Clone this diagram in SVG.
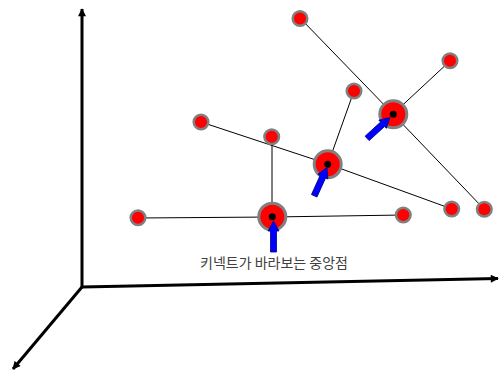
<svg xmlns="http://www.w3.org/2000/svg" width="500" height="373" viewBox="0 0 500 373">
<style>
.axis{stroke:#000;stroke-width:3;fill:none}
.edge{stroke:#000;stroke-width:1;fill:none}
.sn{fill:#ff0000;stroke:#808080;stroke-width:2.5}
.bn{fill:#ff0000;stroke:#808080;stroke-width:3}
.dot{fill:#000}
.ar{fill:#0000ff;stroke:#000080;stroke-width:0.8}
.lbl{font-family:"Noto Sans CJK KR","Noto Sans",sans-serif;font-size:14px;fill:#404040}
</style>
<defs>
<marker id="ah" viewBox="0 0 10 10" refX="9" refY="5" markerWidth="9" markerHeight="8" markerUnits="userSpaceOnUse" orient="auto">
<path d="M0,0 L10,5 L0,10 Z" fill="#000"/>
</marker>
<path id="blueArrow" d="M0,0 L5.5,10 L3,10 L3,31 L-3,31 L-3,10 L-5.5,10 Z"/>
</defs>
<g id="axes">
<line class="axis" x1="82" y1="287" x2="82" y2="9" marker-end="url(#ah)"/>
<line class="axis" x1="82" y1="287" x2="498" y2="278.5" marker-end="url(#ah)"/>
<line class="axis" x1="82" y1="287" x2="13" y2="369" marker-end="url(#ah)"/>
</g>
<g id="connectors">
<line class="edge" x1="300" y1="18" x2="393" y2="114"/>
<line class="edge" x1="450" y1="61" x2="393" y2="114"/>
<line class="edge" x1="393" y1="114" x2="484" y2="209"/>
<line class="edge" x1="354" y1="91" x2="328" y2="164"/>
<line class="edge" x1="201" y1="122" x2="328" y2="164"/>
<line class="edge" x1="328" y1="164" x2="452" y2="209"/>
<line class="edge" x1="272" y1="137" x2="272" y2="217"/>
<line class="edge" x1="138" y1="218" x2="272" y2="217"/>
<line class="edge" x1="272" y1="217" x2="403" y2="215"/>
</g>
<g id="n1"><circle class="sn" cx="300" cy="18.5" r="7.3"/></g>
<g id="n2"><circle class="sn" cx="450" cy="60.7" r="7.3"/></g>
<g id="n3"><circle class="sn" cx="354" cy="91" r="7.3"/></g>
<g id="n4"><circle class="sn" cx="201" cy="122" r="7.3"/></g>
<g id="n5"><circle class="sn" cx="271.7" cy="136.7" r="7.3"/></g>
<g id="n6"><circle class="sn" cx="138" cy="217.7" r="7.3"/></g>
<g id="n7"><circle class="sn" cx="403.3" cy="215" r="7.3"/></g>
<g id="n8"><circle class="sn" cx="451.7" cy="209" r="7.3"/></g>
<g id="n9"><circle class="sn" cx="484.3" cy="209.3" r="7.3"/></g>
<g id="c1"><circle class="bn" cx="393.3" cy="114.3" r="13.5"/><circle class="dot" cx="393.3" cy="114.3" r="3.5"/></g>
<g id="c2"><circle class="bn" cx="327.7" cy="164.3" r="13.5"/><circle class="dot" cx="327.7" cy="164.3" r="3.5"/></g>
<g id="c3"><circle class="bn" cx="272.3" cy="216.7" r="13.5"/><circle class="dot" cx="272.3" cy="216.7" r="3.5"/></g>
<g id="arrows">
<use href="#blueArrow" class="ar" transform="translate(390,117.5) rotate(47.6)"/>
<use href="#blueArrow" class="ar" transform="translate(327,167.5) rotate(24.3)"/>
<use href="#blueArrow" class="ar" transform="translate(273.5,221) rotate(0)"/>
</g>
<g id="label"><text class="lbl" x="200" y="268">키넥트가 바라보는 중앙점</text></g>
</svg>
